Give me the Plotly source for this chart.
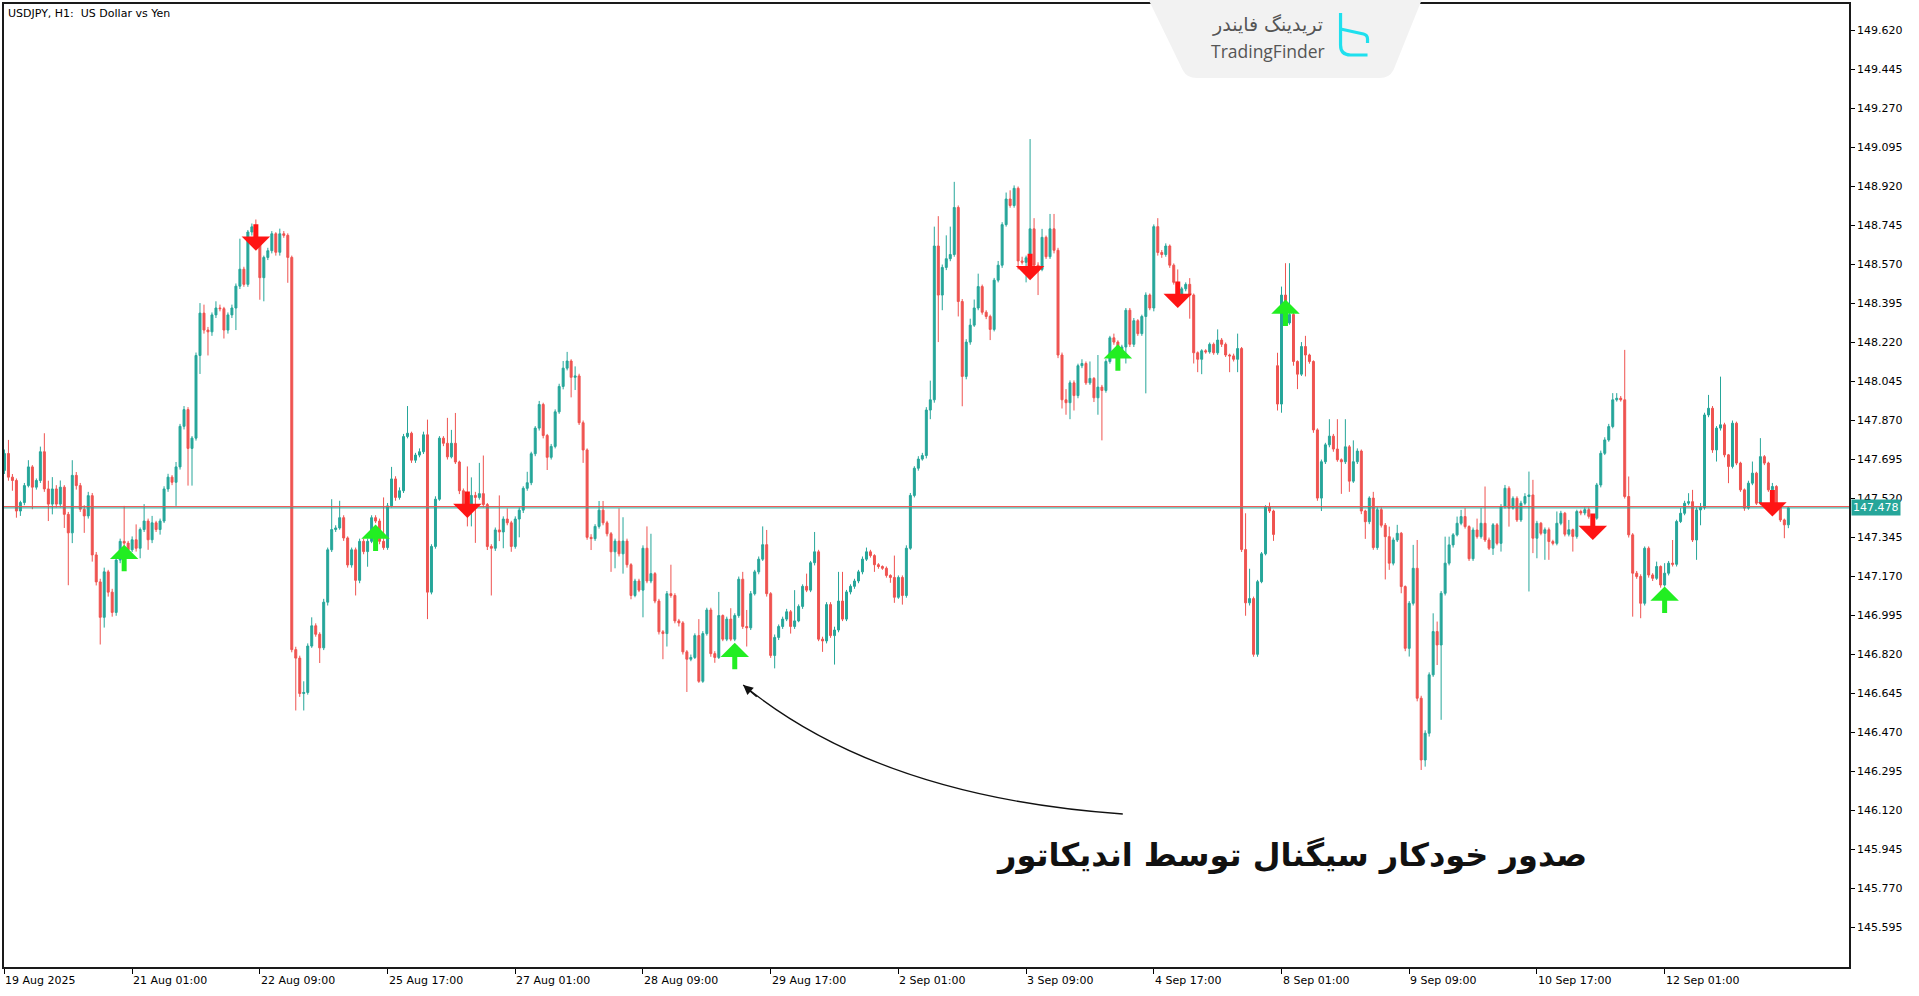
import plotly.graph_objects as go

# ---------------- data (USDJPY H1) ----------------
bars = list(range(448))  # hourly bar index, weekends skipped as in MT4

opens = [147.646, 147.722, 147.616, 147.601, 147.464, 147.502, 147.578, 147.662, 147.571, 147.601,
147.730, 147.563, 147.495, 147.563, 147.495, 147.571, 147.449, 147.366, 147.624, 147.578,
147.472, 147.442, 147.533, 147.267, 147.146, 146.987, 147.191, 147.100, 147.009, 147.244,
147.328, 147.320, 147.290, 147.335, 147.297, 147.381, 147.419, 147.335, 147.411, 147.381,
147.419, 147.563, 147.616, 147.593, 147.662, 147.844, 147.919, 147.745, 147.791, 148.162,
148.352, 148.276, 148.268, 148.344, 148.375, 148.372, 148.276, 148.344, 148.375, 148.473,
148.549, 148.481, 148.716, 148.739, 148.678, 148.511, 148.602, 148.632, 148.708, 148.625,
148.708, 148.701, 148.602, 146.842, 146.804, 146.645, 146.650, 146.858, 146.949, 146.911,
146.850, 147.055, 147.290, 147.381, 147.388, 147.434, 147.343, 147.222, 147.290, 147.153,
147.328, 147.282, 147.328, 147.434, 147.419, 147.328, 147.300, 147.487, 147.608, 147.525,
147.555, 147.798, 147.813, 147.692, 147.715, 147.730, 147.806, 147.100, 147.305, 147.517,
147.791, 147.768, 147.707, 147.768, 147.684, 147.555, 147.495, 147.476, 147.534, 147.525,
147.542, 147.493, 147.305, 147.297, 147.379, 147.370, 147.428, 147.411, 147.305, 147.428,
147.468, 147.566, 147.591, 147.721, 147.836, 147.942, 147.803, 147.705, 147.754, 147.909,
148.023, 148.105, 148.137, 148.064, 148.070, 147.860, 147.738, 147.346, 147.340, 147.395,
147.468, 147.411, 147.362, 147.281, 147.329, 147.272, 147.329, 147.223, 147.085, 147.150,
147.109, 147.297, 147.150, 147.183, 147.060, 146.922, 146.914, 147.093, 147.085, 146.971,
146.962, 146.832, 146.799, 146.807, 146.905, 146.700, 146.914, 147.020, 146.824, 146.807,
146.995, 146.889, 146.979, 146.889, 146.995, 147.158, 146.946, 146.940, 147.093, 147.191,
147.248, 147.313, 147.093, 146.816, 146.897, 146.946, 146.979, 147.012, 146.946, 146.971,
147.036, 147.126, 147.109, 147.232, 147.281, 146.889, 146.881, 147.044, 146.905, 146.930,
147.060, 146.979, 147.101, 147.126, 147.150, 147.191, 147.248, 147.281, 147.264, 147.223,
147.215, 147.207, 147.175, 147.166, 147.077, 147.166, 147.085, 147.297, 147.534, 147.656,
147.697, 147.713, 147.917, 147.963, 148.653, 148.433, 148.557, 148.596, 148.615, 148.826,
148.404, 148.068, 148.222, 148.298, 148.375, 148.471, 148.356, 148.337, 148.279, 148.500,
148.567, 148.749, 148.864, 148.835, 148.912, 148.586, 148.580, 148.600, 148.730, 148.567,
148.548, 148.692, 148.605, 148.730, 148.634, 148.164, 147.963, 147.950, 148.039, 147.982,
148.116, 148.126, 148.039, 148.059, 147.972, 148.020, 148.005, 148.135, 148.241, 148.222,
148.183, 148.200, 148.365, 148.212, 148.318, 148.260, 148.337, 148.433, 148.375, 148.740,
148.624, 148.615, 148.653, 148.567, 148.490, 148.433, 148.461, 148.481, 148.433, 148.174,
148.145, 148.183, 148.178, 148.212, 148.174, 148.231, 148.212, 148.164, 148.160, 148.145,
148.193, 147.291, 147.052, 147.071, 146.821, 147.147, 147.272, 147.483, 147.464, 148.116,
147.944, 148.433, 148.308, 148.346, 148.135, 148.078, 148.202, 148.164, 148.135, 147.828,
147.522, 147.685, 147.761, 147.800, 147.742, 147.694, 147.685, 147.752, 147.598, 147.685,
147.733, 147.464, 147.416, 147.522, 147.300, 147.470, 147.400, 147.349, 147.230, 147.334,
147.364, 147.125, 146.848, 147.050, 147.207, 146.624, 146.347, 146.467, 146.729, 146.923,
146.863, 147.095, 147.230, 147.312, 147.357, 147.409, 147.439, 147.394, 147.250, 147.379,
147.349, 147.409, 147.334, 147.297, 147.402, 147.319, 147.484, 147.566, 147.477, 147.521,
147.424, 147.499, 147.529, 147.536, 147.342, 147.409, 147.364, 147.380, 147.327, 147.319,
147.409, 147.454, 147.360, 147.380, 147.350, 147.462, 147.455, 147.470, 147.440, 147.432,
147.581, 147.723, 147.783, 147.843, 147.963, 147.970, 147.963, 147.529, 147.357, 147.185,
147.170, 147.050, 147.297, 147.177, 147.162, 147.215, 147.132, 147.185, 147.230, 147.225,
147.417, 147.454, 147.499, 147.506, 147.334, 147.469, 147.480, 147.895, 147.925, 147.738,
147.836, 147.851, 147.716, 147.664, 147.858, 147.679, 147.559, 147.477, 147.589, 147.634,
147.499, 147.708, 147.679, 147.559, 147.574, 147.484, 147.424, 147.402]

highs = [147.74, 147.783, 147.63, 147.61, 147.51, 147.59, 147.692, 147.67, 147.61, 147.753,
147.813, 147.60, 147.616, 147.58, 147.601, 147.58, 147.46, 147.692, 147.639, 147.59,
147.49, 147.55, 147.545, 147.28, 147.16, 147.21, 147.20, 147.115, 147.255, 147.34,
147.487, 147.33, 147.35, 147.404, 147.39, 147.495, 147.43, 147.442, 147.42, 147.43,
147.575, 147.631, 147.625, 147.684, 147.855, 147.935, 147.93, 147.80, 148.175, 148.397,
148.390, 148.29, 148.355, 148.405, 148.39, 148.38, 148.355, 148.39, 148.485, 148.686,
148.56, 148.725, 148.754, 148.772, 148.69, 148.61, 148.645, 148.72, 148.715, 148.731,
148.72, 148.71, 148.61, 146.855, 146.815, 146.70, 146.87, 146.987, 146.96, 146.92,
147.07, 147.30, 147.517, 147.40, 147.510, 147.445, 147.35, 147.30, 147.30, 147.34,
147.34, 147.34, 147.445, 147.445, 147.43, 147.525, 147.50, 147.662, 147.62, 147.57,
147.81, 147.935, 147.82, 147.725, 147.745, 147.82, 147.874, 147.315, 147.53, 147.80,
147.80, 147.882, 147.828, 147.904, 147.69, 147.565, 147.664, 147.615, 147.55, 147.680,
147.713, 147.50, 147.315, 147.39, 147.534, 147.44, 147.476, 147.42, 147.44, 147.48,
147.575, 147.640, 147.73, 147.845, 147.958, 147.95, 147.81, 147.765, 147.92, 148.035,
148.137, 148.178, 148.145, 148.113, 148.08, 147.87, 147.745, 147.36, 147.405, 147.509,
147.509, 147.42, 147.37, 147.34, 147.476, 147.436, 147.34, 147.23, 147.16, 147.16,
147.31, 147.395, 147.362, 147.19, 147.07, 146.93, 147.105, 147.223, 147.095, 146.98,
146.97, 146.84, 146.82, 146.915, 146.979, 146.925, 147.03, 147.03, 146.835, 147.101,
147.00, 146.99, 147.028, 147.005, 147.17, 147.191, 147.02, 147.105, 147.20, 147.26,
147.395, 147.379, 147.10, 146.91, 146.955, 146.99, 147.025, 147.02, 147.109, 147.045,
147.135, 147.183, 147.24, 147.370, 147.29, 146.90, 147.055, 147.055, 146.945, 147.191,
147.191, 147.11, 147.135, 147.16, 147.20, 147.26, 147.30, 147.29, 147.27, 147.23,
147.22, 147.215, 147.18, 147.264, 147.175, 147.175, 147.31, 147.545, 147.665, 147.71,
147.725, 147.93, 148.049, 148.740, 148.787, 148.57, 148.701, 148.740, 148.941, 148.835,
148.415, 148.235, 148.327, 148.413, 148.529, 148.48, 148.365, 148.345, 148.51, 148.586,
148.76, 148.893, 148.903, 148.925, 148.92, 148.605, 148.61, 149.133, 148.778, 148.58,
148.730, 148.70, 148.797, 148.797, 148.645, 148.175, 148.011, 148.05, 148.05, 148.125,
148.145, 148.135, 148.135, 148.065, 148.164, 148.03, 148.145, 148.25, 148.26, 148.23,
148.21, 148.375, 148.375, 148.33, 148.325, 148.345, 148.445, 148.44, 148.75, 148.778,
148.635, 148.665, 148.66, 148.575, 148.548, 148.47, 148.49, 148.509, 148.44, 148.18,
148.19, 148.19, 148.22, 148.22, 148.279, 148.24, 148.22, 148.17, 148.17, 148.260,
148.20, 147.454, 147.205, 147.08, 147.155, 147.28, 147.49, 147.502, 147.47, 148.174,
148.471, 148.576, 148.576, 148.355, 148.14, 148.222, 148.250, 148.17, 148.14, 147.835,
147.695, 147.77, 147.876, 147.81, 147.876, 147.70, 147.876, 147.76, 147.781, 147.745,
147.74, 147.47, 147.53, 147.55, 147.48, 147.48, 147.41, 147.394, 147.345, 147.402,
147.37, 147.13, 147.06, 147.312, 147.334, 146.635, 146.48, 146.74, 147.005, 146.968,
147.105, 147.349, 147.349, 147.365, 147.439, 147.469, 147.477, 147.40, 147.39, 147.43,
147.477, 147.574, 147.345, 147.41, 147.41, 147.495, 147.581, 147.575, 147.53, 147.53,
147.51, 147.544, 147.641, 147.604, 147.42, 147.415, 147.39, 147.39, 147.335, 147.462,
147.465, 147.46, 147.424, 147.385, 147.47, 147.47, 147.48, 147.48, 147.45, 147.59,
147.735, 147.795, 147.855, 147.993, 147.993, 147.98, 148.187, 147.619, 147.365, 147.195,
147.18, 147.305, 147.305, 147.185, 147.237, 147.22, 147.230, 147.24, 147.334, 147.425,
147.477, 147.51, 147.544, 147.559, 147.48, 147.50, 147.905, 147.985, 147.935, 147.845,
148.067, 147.86, 147.72, 147.87, 147.865, 147.685, 147.565, 147.60, 147.686, 147.64,
147.791, 147.715, 147.685, 147.59, 147.58, 147.49, 147.43, 147.485]

lows = [147.63, 147.60, 147.555, 147.434, 147.442, 147.49, 147.57, 147.472, 147.56, 147.59,
147.55, 147.419, 147.449, 147.48, 147.48, 147.388, 147.131, 147.320, 147.56, 147.46,
147.366, 147.43, 147.237, 147.13, 146.865, 146.941, 147.08, 146.99, 146.994, 147.23,
147.30, 147.27, 147.28, 147.282, 147.252, 147.37, 147.290, 147.32, 147.37, 147.358,
147.41, 147.55, 147.58, 147.487, 147.65, 147.83, 147.578, 147.578, 147.78, 148.079,
148.26, 148.162, 148.25, 148.33, 148.36, 148.238, 148.26, 148.33, 148.276, 148.46,
148.47, 148.47, 148.70, 148.665, 148.412, 148.405, 148.59, 148.62, 148.61, 148.61,
148.69, 148.488, 146.83, 146.569, 146.63, 146.569, 146.64, 146.85, 146.90, 146.782,
146.84, 147.04, 147.28, 147.37, 147.38, 147.33, 147.21, 147.21, 147.085, 147.14,
147.27, 147.214, 147.32, 147.41, 147.315, 147.29, 147.29, 147.48, 147.51, 147.515,
147.545, 147.79, 147.68, 147.68, 147.705, 147.72, 146.979, 147.09, 147.295, 147.51,
147.755, 147.695, 147.70, 147.675, 147.54, 147.48, 147.395, 147.395, 147.321, 147.515,
147.48, 147.289, 147.085, 147.285, 147.329, 147.297, 147.40, 147.281, 147.295, 147.346,
147.455, 147.555, 147.58, 147.71, 147.825, 147.79, 147.648, 147.695, 147.745, 147.90,
148.01, 148.095, 147.974, 148.007, 147.85, 147.680, 147.335, 147.289, 147.33, 147.385,
147.40, 147.35, 147.191, 147.207, 147.26, 147.183, 147.21, 147.068, 147.077, 147.10,
146.987, 147.14, 147.14, 147.05, 146.91, 146.799, 146.856, 147.075, 146.96, 146.946,
146.82, 146.652, 146.79, 146.80, 146.693, 146.693, 146.905, 146.81, 146.783, 146.80,
146.88, 146.88, 146.88, 146.88, 146.985, 146.935, 146.856, 146.93, 147.085, 147.18,
147.24, 147.08, 146.805, 146.758, 146.885, 146.935, 146.97, 146.914, 146.935, 146.965,
147.025, 147.10, 147.10, 147.22, 146.88, 146.832, 146.87, 146.895, 146.775, 146.92,
146.97, 146.97, 147.09, 147.115, 147.14, 147.18, 147.24, 147.255, 147.191, 147.205,
147.20, 147.165, 147.142, 147.052, 147.07, 147.044, 147.075, 147.29, 147.525, 147.645,
147.69, 147.70, 147.876, 147.95, 148.222, 148.365, 148.545, 148.585, 148.605, 148.337,
147.934, 148.055, 148.21, 148.29, 148.365, 148.345, 148.325, 148.231, 148.27, 148.49,
148.555, 148.74, 148.825, 148.825, 148.548, 148.57, 148.490, 148.557, 148.555, 148.433,
148.54, 148.595, 148.595, 148.62, 148.15, 147.924, 147.896, 147.876, 147.915, 147.97,
148.105, 148.03, 148.03, 147.953, 147.896, 147.781, 147.995, 148.125, 148.21, 148.17,
148.17, 148.126, 148.20, 148.20, 148.25, 148.25, 147.992, 148.365, 148.36, 148.61,
148.60, 148.605, 148.555, 148.48, 148.42, 148.42, 148.45, 148.327, 148.126, 148.087,
148.078, 148.17, 148.17, 148.165, 148.165, 148.20, 148.155, 148.087, 148.135, 148.087,
147.28, 146.994, 147.04, 146.81, 146.81, 147.14, 147.265, 147.455, 147.330, 147.915,
147.905, 148.30, 148.30, 148.116, 148.011, 148.07, 148.068, 148.125, 147.815, 147.51,
147.464, 147.675, 147.75, 147.73, 147.685, 147.541, 147.675, 147.550, 147.59, 147.675,
147.45, 147.339, 147.405, 147.29, 147.29, 147.39, 147.157, 147.200, 147.22, 147.325,
147.095, 146.835, 146.811, 147.04, 146.61, 146.302, 146.317, 146.452, 146.72, 146.773,
146.527, 147.085, 147.22, 147.30, 147.35, 147.40, 147.385, 147.24, 147.24, 147.34,
147.34, 147.325, 147.289, 147.267, 147.31, 147.282, 147.475, 147.394, 147.47, 147.415,
147.415, 147.49, 147.103, 147.275, 147.252, 147.355, 147.245, 147.245, 147.31, 147.31,
147.40, 147.35, 147.35, 147.282, 147.34, 147.445, 147.445, 147.43, 147.42, 147.425,
147.57, 147.715, 147.775, 147.835, 147.955, 147.955, 147.52, 147.345, 146.990, 147.16,
146.983, 147.04, 147.165, 147.15, 147.155, 147.12, 147.125, 147.175, 147.215, 147.215,
147.41, 147.445, 147.49, 147.325, 147.245, 147.40, 147.47, 147.885, 147.725, 147.686,
147.825, 147.705, 147.589, 147.655, 147.67, 147.55, 147.465, 147.47, 147.58, 147.491,
147.49, 147.67, 147.55, 147.55, 147.475, 147.415, 147.342, 147.387]

closes = [147.722, 147.616, 147.601, 147.464, 147.502, 147.578, 147.662, 147.571, 147.601, 147.730,
147.563, 147.495, 147.563, 147.495, 147.571, 147.449, 147.366, 147.624, 147.578, 147.472,
147.442, 147.533, 147.267, 147.146, 146.987, 147.191, 147.100, 147.009, 147.244, 147.328,
147.320, 147.290, 147.335, 147.297, 147.381, 147.419, 147.335, 147.411, 147.381, 147.419,
147.563, 147.616, 147.593, 147.662, 147.844, 147.919, 147.745, 147.791, 148.162, 148.352,
148.276, 148.268, 148.344, 148.375, 148.372, 148.276, 148.344, 148.375, 148.473, 148.549,
148.481, 148.716, 148.739, 148.678, 148.511, 148.602, 148.632, 148.708, 148.625, 148.708,
148.701, 148.602, 146.842, 146.804, 146.645, 146.650, 146.858, 146.949, 146.911, 146.850,
147.055, 147.290, 147.381, 147.388, 147.434, 147.343, 147.222, 147.290, 147.153, 147.328,
147.282, 147.328, 147.434, 147.419, 147.328, 147.300, 147.487, 147.608, 147.525, 147.555,
147.798, 147.813, 147.692, 147.715, 147.730, 147.806, 147.100, 147.305, 147.517, 147.791,
147.768, 147.707, 147.768, 147.684, 147.555, 147.495, 147.476, 147.534, 147.525, 147.542,
147.493, 147.305, 147.297, 147.379, 147.370, 147.428, 147.411, 147.305, 147.428, 147.468,
147.566, 147.591, 147.721, 147.836, 147.942, 147.803, 147.705, 147.754, 147.909, 148.023,
148.105, 148.137, 148.064, 148.070, 147.860, 147.738, 147.346, 147.340, 147.395, 147.468,
147.411, 147.362, 147.281, 147.329, 147.272, 147.329, 147.223, 147.085, 147.150, 147.109,
147.297, 147.150, 147.183, 147.060, 146.922, 146.914, 147.093, 147.085, 146.971, 146.962,
146.832, 146.799, 146.807, 146.905, 146.700, 146.914, 147.020, 146.824, 146.807, 146.995,
146.889, 146.979, 146.889, 146.995, 147.158, 146.946, 146.940, 147.093, 147.191, 147.248,
147.313, 147.093, 146.816, 146.897, 146.946, 146.979, 147.012, 146.946, 146.971, 147.036,
147.126, 147.109, 147.232, 147.281, 146.889, 146.881, 147.044, 146.905, 146.930, 147.060,
146.979, 147.101, 147.126, 147.150, 147.191, 147.248, 147.281, 147.264, 147.223, 147.215,
147.207, 147.175, 147.166, 147.077, 147.166, 147.085, 147.297, 147.534, 147.656, 147.697,
147.713, 147.917, 147.963, 148.653, 148.433, 148.557, 148.596, 148.615, 148.826, 148.404,
148.068, 148.222, 148.298, 148.375, 148.471, 148.356, 148.337, 148.279, 148.500, 148.567,
148.749, 148.864, 148.835, 148.912, 148.586, 148.580, 148.600, 148.730, 148.567, 148.548,
148.692, 148.605, 148.730, 148.634, 148.164, 147.963, 147.950, 148.039, 147.982, 148.116,
148.126, 148.039, 148.059, 147.972, 148.020, 148.005, 148.135, 148.241, 148.222, 148.183,
148.200, 148.365, 148.212, 148.318, 148.260, 148.337, 148.433, 148.375, 148.740, 148.624,
148.615, 148.653, 148.567, 148.490, 148.433, 148.461, 148.481, 148.433, 148.174, 148.145,
148.183, 148.178, 148.212, 148.174, 148.231, 148.212, 148.164, 148.160, 148.145, 148.193,
147.291, 147.052, 147.071, 146.821, 147.147, 147.272, 147.483, 147.464, 147.359, 147.944,
148.433, 148.308, 148.346, 148.135, 148.078, 148.202, 148.164, 148.135, 147.828, 147.522,
147.685, 147.761, 147.800, 147.742, 147.694, 147.685, 147.752, 147.598, 147.685, 147.733,
147.464, 147.416, 147.522, 147.300, 147.470, 147.400, 147.349, 147.230, 147.334, 147.364,
147.125, 146.848, 147.050, 147.207, 146.624, 146.347, 146.467, 146.729, 146.923, 146.863,
147.095, 147.230, 147.312, 147.357, 147.409, 147.439, 147.394, 147.250, 147.379, 147.349,
147.409, 147.334, 147.297, 147.402, 147.319, 147.484, 147.566, 147.477, 147.521, 147.424,
147.499, 147.529, 147.536, 147.342, 147.409, 147.364, 147.380, 147.327, 147.319, 147.409,
147.454, 147.360, 147.380, 147.350, 147.462, 147.455, 147.470, 147.440, 147.432, 147.581,
147.723, 147.783, 147.843, 147.963, 147.970, 147.963, 147.529, 147.357, 147.185, 147.170,
147.050, 147.297, 147.177, 147.162, 147.215, 147.132, 147.185, 147.230, 147.225, 147.417,
147.454, 147.499, 147.506, 147.334, 147.469, 147.480, 147.895, 147.925, 147.738, 147.836,
147.851, 147.716, 147.664, 147.858, 147.679, 147.559, 147.477, 147.589, 147.634, 147.499,
147.708, 147.679, 147.559, 147.574, 147.484, 147.424, 147.402, 147.478]

x_tick_bars = [0, 32, 64, 96, 128, 160, 192, 224, 256, 288, 320, 352, 384, 416]
x_tick_labels = ["19 Aug 2025", "21 Aug 01:00", "22 Aug 09:00", "25 Aug 17:00", "27 Aug 01:00",
                 "28 Aug 09:00", "29 Aug 17:00", "2 Sep 01:00", "3 Sep 09:00", "4 Sep 17:00",
                 "8 Sep 01:00", "9 Sep 09:00", "10 Sep 17:00", "12 Sep 01:00"]
y_tick_values = [145.595, 145.770, 145.945, 146.120, 146.295, 146.470, 146.645, 146.820,
                 146.995, 147.170, 147.345, 147.520, 147.695, 147.870, 148.045, 148.220,
                 148.395, 148.570, 148.745, 148.920, 149.095, 149.270, 149.445, 149.620]

up_signal_bars = [30, 93, 183, 279, 321, 416]
up_signal_prices = [147.313, 147.404, 146.873, 148.212, 148.413, 147.125]
down_signal_bars = [63, 116, 257, 294, 398, 443]
down_signal_prices = [148.632, 147.433, 148.500, 148.375, 147.334, 147.439]

bid_price = 147.478
ask_price = 147.484

TEAL = "#26a69a"
RED = "#ef5350"
UP_ARROW = "#22ee22"
DOWN_ARROW = "#ff1414"
FONT = "DejaVu Sans"

W, H = 1919, 996
ML, MR, MT, MB = 2, 70, 4, 29
PW, PH = W - ML - MR, H - MT - MB


def px(x):  # page pixel -> paper x (decorations only)
    return (x - ML) / PW


def py(y):  # page pixel -> paper y (decorations only)
    return 1 - (y - MT) / PH


fig = go.Figure()
fig.add_trace(go.Candlestick(
    x=bars, open=opens, high=highs, low=lows, close=closes,
    increasing=dict(line=dict(color=TEAL, width=1), fillcolor=TEAL),
    decreasing=dict(line=dict(color=RED, width=1), fillcolor=RED),
    whiskerwidth=0, hoverinfo="skip", showlegend=False,
))

shapes = [
    dict(type="line", xref="paper", yref="y", x0=0, x1=1, y0=ask_price, y1=ask_price,
         line=dict(color=RED, width=1)),
    dict(type="line", xref="paper", yref="y", x0=0, x1=1, y0=bid_price, y1=bid_price,
         line=dict(color=TEAL, width=1)),
    # pointer curve
    dict(type="path", xref="paper", yref="paper",
         path=f"M {px(1122)},{py(814)} Q {px(879)},{py(797)} {px(742)},{py(685)}",
         line=dict(color="#111111", width=1.3), layer="above"),
    # watermark tab
    dict(type="path", xref="paper", yref="paper", layer="above",
         path=(f"M {px(1147)},{py(-2)} L {px(1422)},{py(-2)} L {px(1393)},{py(70)} "
               f"Q {px(1389)},{py(78)} {px(1379)},{py(78)} L {px(1196)},{py(78)} "
               f"Q {px(1186)},{py(78)} {px(1182)},{py(70)} Z"),
         fillcolor="#f2f2f2", line=dict(width=0)),
    # logo icon
    dict(type="path", xref="paper", yref="paper", layer="above",
         path=(f"M {px(1340)},{py(13)} L {px(1340)},{py(45)} Q {px(1340)},{py(55)} {px(1350)},{py(55)} "
               f"L {px(1367)},{py(55)}"),
         line=dict(color="#1fe0ee", width=3.2)),
    dict(type="path", xref="paper", yref="paper", layer="above",
         path=f"M {px(1340)},{py(29)} L {px(1363)},{py(34)} Q {px(1367)},{py(35)} {px(1367)},{py(39)} L {px(1367)},{py(43)}",
         line=dict(color="#1fe0ee", width=3.2)),
]

annotations = []
for b, p in zip(up_signal_bars, up_signal_prices):
    annotations.append(dict(x=b, y=p, xref="x", yref="y", text="", showarrow=True,
                            ax=0, ay=28, arrowhead=1, arrowsize=0.95, arrowwidth=5,
                            arrowcolor=UP_ARROW, standoff=0))
for b, p in zip(down_signal_bars, down_signal_prices):
    annotations.append(dict(x=b, y=p, xref="x", yref="y", text="", showarrow=True,
                            ax=0, ay=-28, arrowhead=1, arrowsize=0.95, arrowwidth=5,
                            arrowcolor=DOWN_ARROW, standoff=0))

for b, lab in zip(x_tick_bars, x_tick_labels):
    annotations.append(dict(x=b, y=0, xref="x", yref="paper", text=lab, showarrow=False,
                            xanchor="left", yanchor="top", yshift=-5, xshift=-1,
                            font=dict(family=FONT, size=11, color="#000")))

annotations += [
    dict(x=px(4), y=py(5), xref="paper", yref="paper", xanchor="left", yanchor="top",
         text="USDJPY, H1:&nbsp; US Dollar vs Yen", showarrow=False,
         font=dict(family=FONT, size=11, color="#000")),
    dict(x=1, y=bid_price, xref="paper", yref="y", xanchor="left", yanchor="middle", xshift=2,
         text=f"{bid_price:.3f}", showarrow=False, bgcolor=TEAL, borderpad=1,
         font=dict(family=FONT, size=11, color="#ffffff")),
    dict(x=px(1291), y=py(855), xref="paper", yref="paper", xanchor="center", yanchor="middle",
         text="<b>صدور خودکار سیگنال توسط اندیکاتور</b>", showarrow=False,
         font=dict(family=FONT, size=32, color="#111111")),
    dict(x=px(742), y=py(685), xref="paper", yref="paper", text="", showarrow=True,
         ax=15, ay=13, arrowhead=2, arrowsize=1.5, arrowwidth=1.3, arrowcolor="#111111", standoff=0),
    dict(x=px(1267), y=py(24), xref="paper", yref="paper", xanchor="center", yanchor="middle",
         text="تریدینگ فایندر", showarrow=False,
         font=dict(family=FONT, size=19, color="#555555")),
    dict(x=px(1267), y=py(51), xref="paper", yref="paper", xanchor="center", yanchor="middle",
         text="TradingFinder", showarrow=False,
         font=dict(family="Open Sans", size=17.5, color="#555555")),
]

fig.update_layout(
    width=W, height=H,
    margin=dict(l=ML, r=MR, t=MT, b=MB),
    paper_bgcolor="white", plot_bgcolor="white",
    showlegend=False, hovermode=False,
    shapes=shapes, annotations=annotations,
    xaxis=dict(range=[-0.11, 462.2], showgrid=False, zeroline=False,
               showline=True, mirror=True, linecolor="#1a1a1a", linewidth=1.5,
               ticks="outside", ticklen=5, tickcolor="#000", tickvals=x_tick_bars,
               showticklabels=False, rangeslider=dict(visible=False), fixedrange=True),
    yaxis=dict(side="right", range=[145.418, 149.739], showgrid=False, zeroline=False,
               showline=True, mirror=True, linecolor="#1a1a1a", linewidth=1.5,
               ticks="outside", ticklen=4, tickcolor="#000",
               tickvals=y_tick_values, ticktext=[f"{v:.3f}" for v in y_tick_values],
               tickfont=dict(family=FONT, size=11, color="#000"), fixedrange=True),
)

fig.write_html("out.html", config={"displayModeBar": False},
               post_script="document.body.style.margin='0';")
